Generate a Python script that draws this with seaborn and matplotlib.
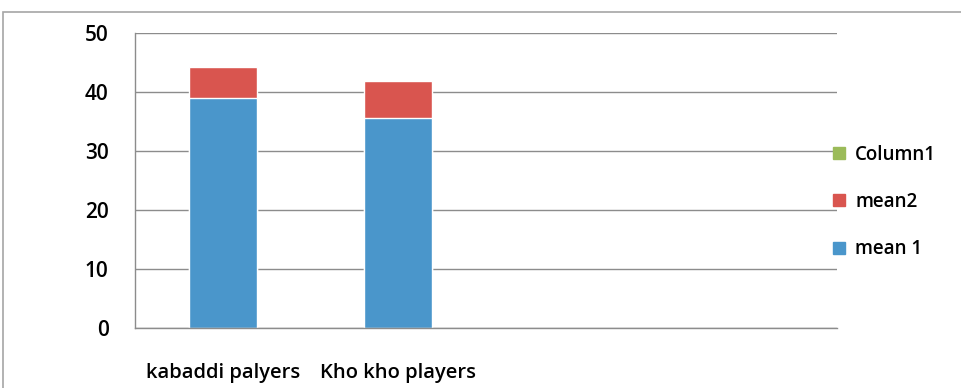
import pandas as pd
import numpy as np
import matplotlib
matplotlib.use("Agg")
import matplotlib.pyplot as plt
from matplotlib.patches import Patch, Rectangle
import seaborn as sns

# data
categories = ["kabaddi palyers", "Kho kho players", "slot3", "slot4"]
groups = ["kabaddi palyers", "Kho kho players"]
mean_1 = [39.0, 35.6]
mean_2 = [5.2, 6.3]
column_1 = [np.nan, np.nan]

df = pd.DataFrame({"group": groups, "mean1": mean_1, "mean2": mean_2, "column1": column_1})
df["total"] = df["mean1"] + df["mean2"]

blue = "#4A96CB"
red = "#D9554F"
green = "#9BBB59"
grey = "#8C8C8C"

sns.set_style("white")
plt.rcParams["font.family"] = ["Open Sans", "DejaVu Sans"]
plt.rcParams["font.weight"] = "semibold"

fig = plt.figure(figsize=(9.62, 3.88), dpi=100)
ax = fig.add_axes([135 / 962, 1 - 328 / 388, (837 - 135) / 962, (328 - 33) / 388])

# stacked bars: total in red, mean 1 on top in blue
sns.barplot(data=df, x="group", y="total", order=categories, color=red, width=0.39,
            saturation=1, edgecolor="white", linewidth=1, ax=ax)
sns.barplot(data=df, x="group", y="mean1", order=categories, color=blue, width=0.39,
            saturation=1, edgecolor="white", linewidth=1, ax=ax)

ax.set_xlim(-0.5, 3.5)
ax.set_ylim(0, 50)
ax.set_yticks(range(0, 51, 10))
ax.yaxis.grid(True, color=grey, linewidth=1)
ax.set_axisbelow(True)
ax.set_xlabel("")
ax.set_ylabel("")

# ticks at category boundaries, labels at the centres
ax.set_xticks(np.arange(-0.5, 3.6, 1.0))
ax.set_xticklabels([])
ax.set_xticks(range(len(groups)), minor=True)
ax.set_xticklabels(groups, minor=True, fontsize=14.5, color="black")
ax.tick_params(axis="x", which="major", direction="out", length=7, color=grey, width=1)
ax.tick_params(axis="x", which="minor", length=0, pad=25)
ax.tick_params(axis="y", direction="out", length=8, color=grey, width=1, labelsize=15,
               labelcolor="black", pad=11)

for side in ["top", "right"]:
    ax.spines[side].set_visible(False)
for side in ["left", "bottom"]:
    ax.spines[side].set_color(grey)
    ax.spines[side].set_linewidth(1)

handles = [Patch(color=green, label="Column1"),
           Patch(color=red, label="mean2"),
           Patch(color=blue, label="mean 1")]
fig.legend(handles=handles, loc="center left", bbox_to_anchor=(826 / 962, 1 - 202 / 388),
           frameon=False, fontsize=13.5, handlelength=0.6, handleheight=0.6,
           handletextpad=0.55, labelspacing=1.45, borderaxespad=0, labelcolor="black")

# outer chart border
fig.patches.append(Rectangle((3 / 962, -0.05), 1.0, 1.05 - 12 / 388, transform=fig.transFigure,
                             fill=False, edgecolor="#A6A6A6", linewidth=1.2))

fig.savefig("out.png", dpi=100)
